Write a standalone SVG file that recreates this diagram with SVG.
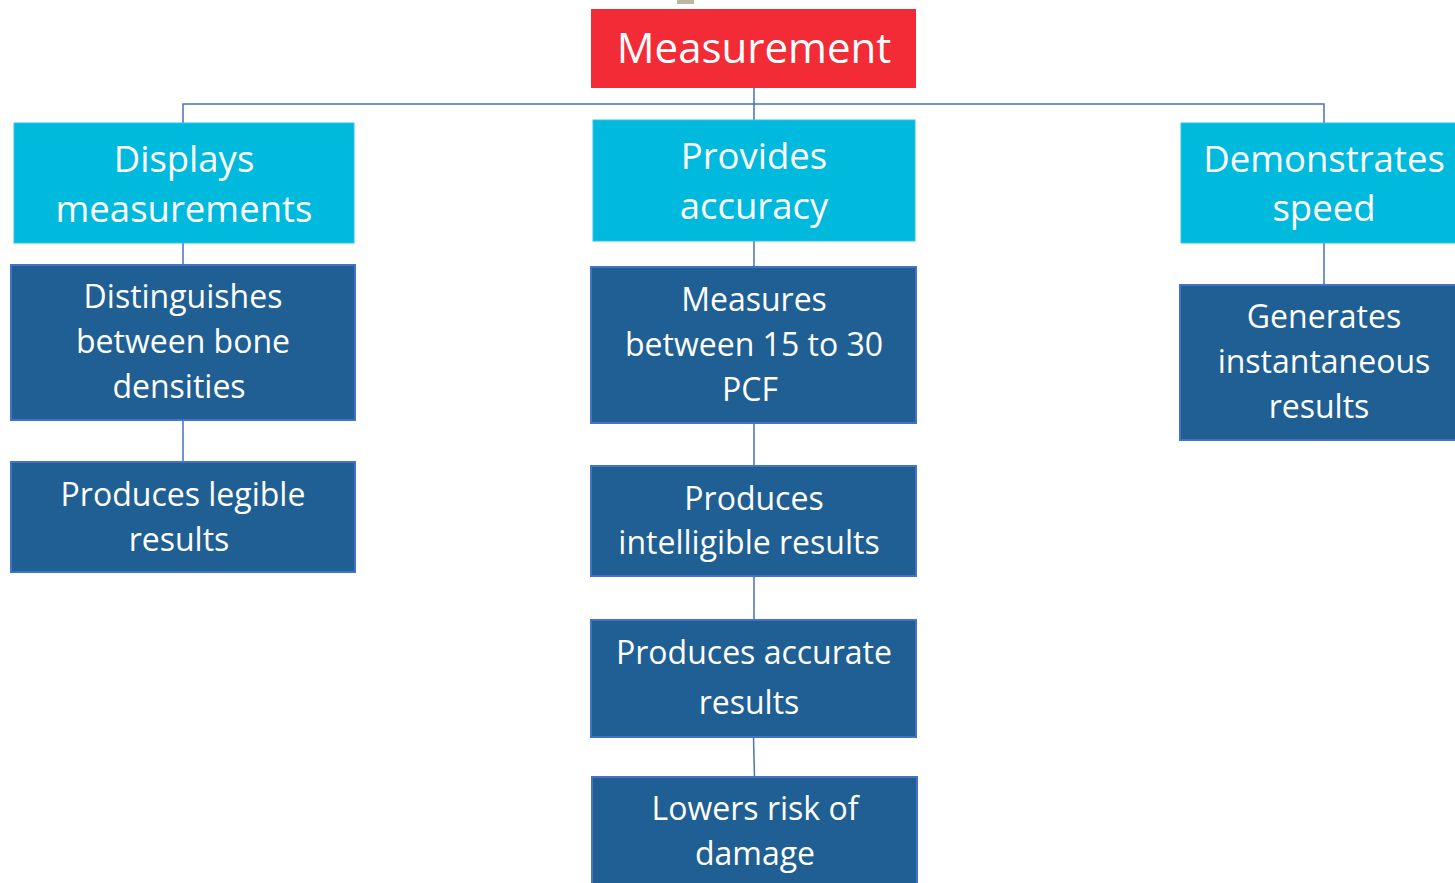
<svg xmlns="http://www.w3.org/2000/svg" width="1455" height="883" viewBox="0 0 1455 883">
<style>
.t{font-family:"Open Sans","Noto Sans","Liberation Sans",sans-serif;fill:#fff;text-anchor:middle}
.red{fill:#F32B36}
.cy{fill:#00BADE;stroke:#2FC3E3;stroke-width:1}
.db{fill:#1F5F93;stroke:#4472C4;stroke-width:2}
.c{stroke:#4472C4;stroke-width:1.5;fill:none}
.f41{font-size:42px}.f36{font-size:36.5px}.f31{font-size:32px}
</style>
<rect x="677" y="0" width="17" height="4" fill="#BDB6A3"/>
<g id="connectors">
<path class="c" d="M754 88V120M183 123V104H1324V123"/>
<path class="c" d="M183 243V265M183 420V462"/>
<path class="c" d="M754 241V267M754 423V466M754 576V620M753.5 737L754.5 777"/>
<path class="c" d="M1324 243V285"/>
</g>
<g id="measurement"><rect class="red" x="591" y="9" width="325" height="79"/><text class="t f41" x="754" y="63">Measurement</text></g>
<g id="displays"><rect class="cy" x="14" y="123" width="340" height="120"/><text class="t f36" x="184" y="172">Displays</text><text class="t f36" x="184" y="222">measurements</text></g>
<g id="provides"><rect class="cy" x="593" y="120" width="322" height="121"/><text class="t f36" x="754" y="169">Provides</text><text class="t f36" x="754" y="219">accuracy</text></g>
<g id="demonstrates"><rect class="cy" x="1181" y="123" width="280" height="120"/><text class="t f36" x="1324" y="172">Demonstrates</text><text class="t f36" x="1324" y="221">speed</text></g>
<g id="distinguishes"><rect class="db" x="11" y="265" width="344" height="155"/><text class="t f31" x="183" y="308">Distinguishes</text><text class="t f31" x="183" y="353">between bone</text><text class="t f31" x="179" y="398">densities</text></g>
<g id="legible"><rect class="db" x="11" y="462" width="344" height="110"/><text class="t f31" x="183" y="506">Produces legible</text><text class="t f31" x="179" y="551">results</text></g>
<g id="measures"><rect class="db" x="591" y="267" width="325" height="156"/><text class="t f31" x="754" y="311">Measures</text><text class="t f31" x="754" y="356">between 15 to 30</text><text class="t f31" x="750" y="401">PCF</text></g>
<g id="intelligible"><rect class="db" x="591" y="466" width="325" height="110"/><text class="t f31" x="754" y="510">Produces</text><text class="t f31" x="749" y="554">intelligible results</text></g>
<g id="accurate"><rect class="db" x="591" y="620" width="325" height="117"/><text class="t f31" x="754" y="664">Produces accurate</text><text class="t f31" x="749" y="714">results</text></g>
<g id="lowers"><rect class="db" x="592" y="777" width="325" height="115"/><text class="t f31" x="755" y="820">Lowers risk of</text><text class="t f31" x="755" y="865">damage</text></g>
<g id="generates"><rect class="db" x="1180" y="285" width="285" height="155"/><text class="t f31" x="1324" y="328">Generates</text><text class="t f31" x="1324" y="373">instantaneous</text><text class="t f31" x="1319" y="418">results</text></g>
</svg>
